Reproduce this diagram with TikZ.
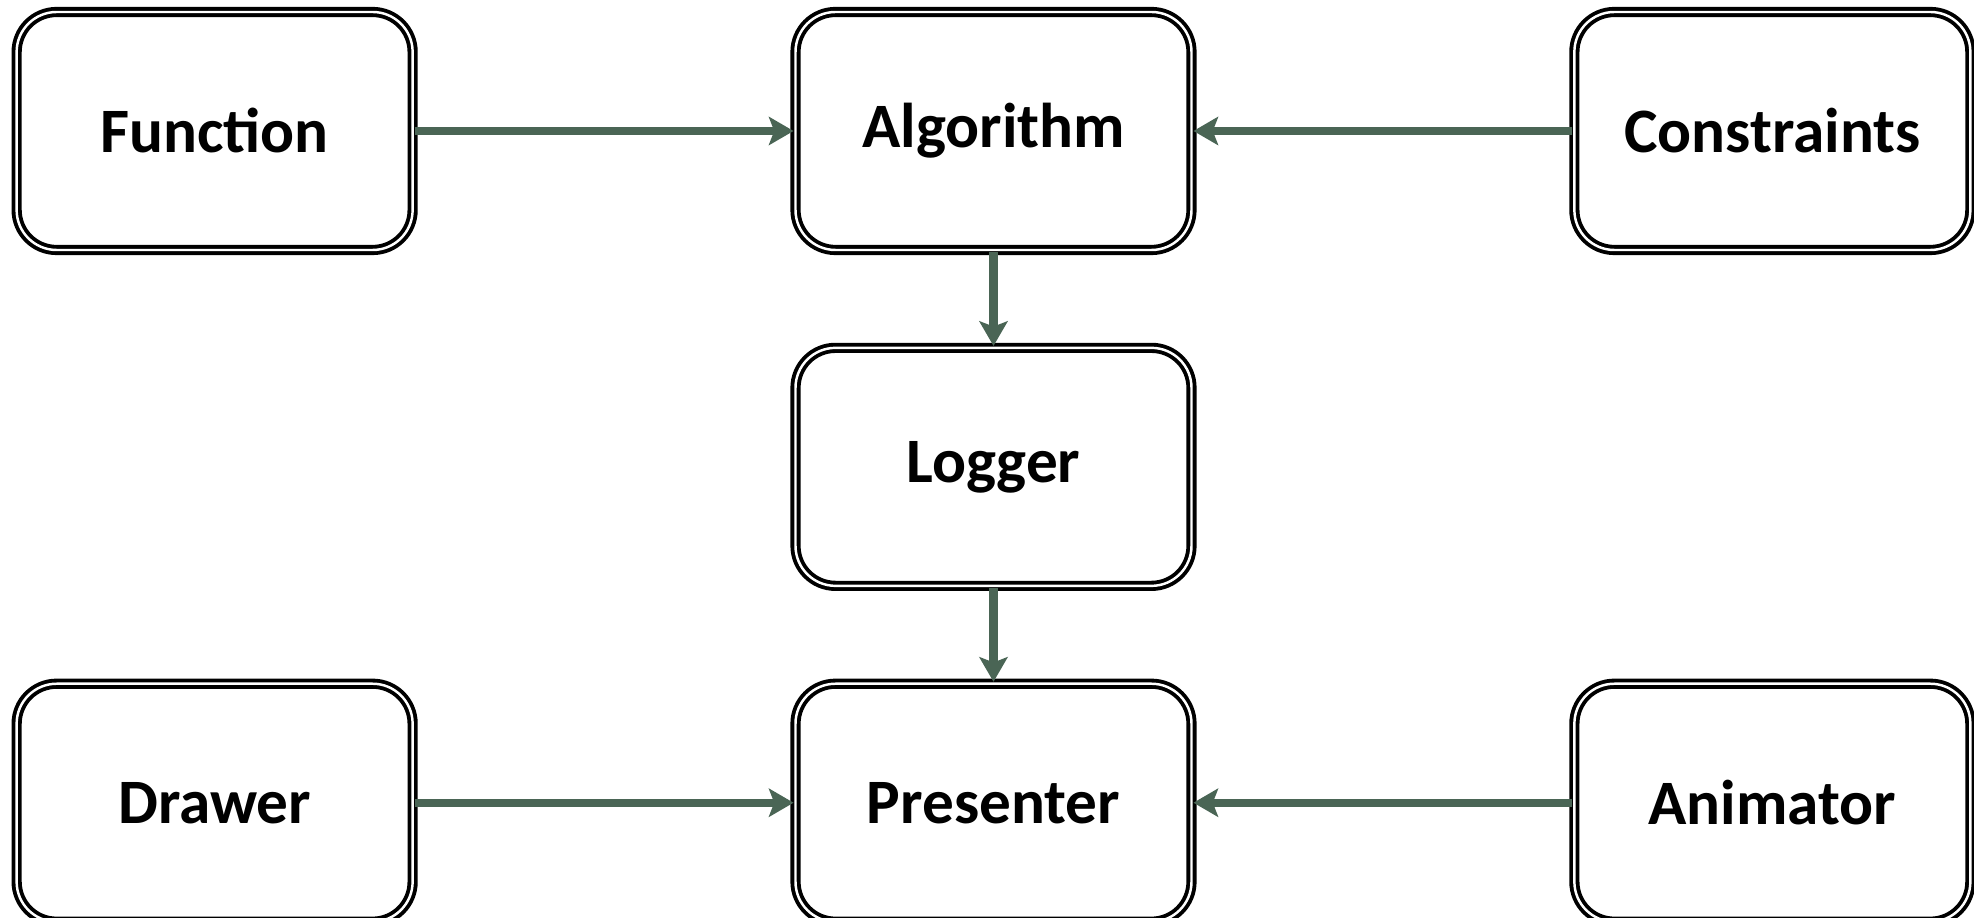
\documentclass[tikz,border=0pt]{standalone}
\usepackage{fontspec}
\setmainfont{Carlito}
\usepackage{tikz}
\usetikzlibrary{positioning}
\usetikzlibrary{arrows.meta}
\definecolor{linkgreen}{RGB}{74,101,85}

\begin{document}
\begin{tikzpicture}[box/.style={draw,double,line width=1.1pt,double distance=0.7pt,rounded corners=0.4cm,minimum width=3.96cm,minimum height=2.38cm,font=\fontsize{18}{21}\selectfont\bfseries},link/.style={draw=linkgreen,line width=2.3pt,-{Stealth[length=7pt,width=8pt,inset=1.5pt]}}]
  \useasboundingbox (0,0) rectangle (19.74,9.18);
  %top
  \node[box] (algorithm) at (9.935,7.87) {Algorithm};
  \node[box,left=3.79cm of algorithm] (function) {Function};
  \node[box,right=3.79cm of algorithm] (constraints) {Constraints};
  %middle
  \node[box,below=0.94cm of algorithm] (logger) {Logger};
  %bottom
  \node[box,below=0.94cm of logger] (presenter) {Presenter};
  \node[box,left=3.79cm of presenter] (drawer) {Drawer};
  \node[box,right=3.79cm of presenter] (animator) {Animator};

  \draw[link] (function) -- (algorithm);
  \draw[link] (constraints) -- (algorithm);
  \draw[link] (algorithm) -- (logger);
  \draw[link] (logger) -- (presenter);
  \draw[link] (drawer) -- (presenter);
  \draw[link] (animator) -- (presenter);
\end{tikzpicture}
\end{document}
